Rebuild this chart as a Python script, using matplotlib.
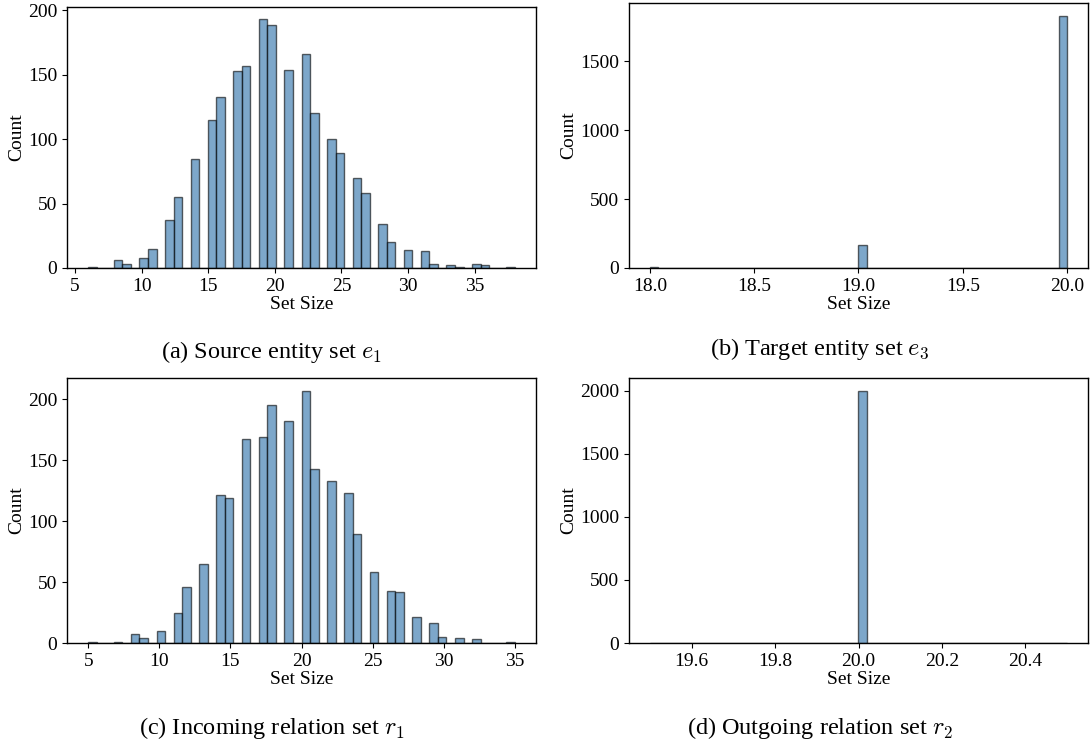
import numpy as np
import matplotlib
matplotlib.use("Agg")
import matplotlib.pyplot as plt
from matplotlib.ticker import MultipleLocator
import seaborn as sns

# counts of set sizes (2000 samples each)
src_sizes = [6, 8, 9, 10, 11, 12, 13, 14, 15, 16, 17, 18, 19, 20, 21, 22, 23,
             24, 25, 26, 27, 28, 29, 30, 31, 32, 33, 34, 35, 36, 38]
src_counts = [1, 6, 3, 8, 15, 37, 55, 85, 115, 133, 153, 157, 193, 189, 154, 166, 120,
              100, 89, 70, 58, 34, 20, 14, 13, 3, 2, 1, 3, 2, 1]

tgt_sizes = [18, 19, 20]
tgt_counts = [5, 164, 1831]

in_sizes = [5, 7, 8, 9, 10, 11, 12, 13, 14, 15, 16, 17, 18, 19, 20, 21, 22,
            23, 24, 25, 26, 27, 28, 29, 30, 31, 32, 35]
in_counts = [1, 1, 7, 4, 10, 25, 46, 65, 121, 119, 167, 169, 195, 182, 207, 143, 133,
             123, 89, 58, 43, 42, 21, 16, 5, 4, 3, 1]

out_sizes = [20]
out_counts = [2000]

captions = [r"(a) Source entity set $e_1$", r"(b) Target entity set $e_3$",
            r"(c) Incoming relation set $r_1$", r"(d) Outgoing relation set $r_2$"]

plt.rcParams['font.family'] = ['Liberation Serif', 'DejaVu Serif']
plt.rcParams['mathtext.fontset'] = 'cm'
plt.rcParams['font.size'] = 14

W, H = 1092, 745
fig = plt.figure(figsize=(W / 100, H / 100), dpi=100)

def px_axes(left, top, right, bottom):
    return fig.add_axes([left / W, 1 - bottom / H, (right - left) / W, (bottom - top) / H])

boxes = [(67, 7, 536, 268), (629, 3, 1088, 268), (67, 378, 536, 643), (629, 378, 1088, 643)]
datasets = [(src_sizes, src_counts), (tgt_sizes, tgt_counts),
            (in_sizes, in_counts), (out_sizes, out_counts)]
cap_pos = [(272, 352), (820, 349), (272, 728), (820, 728)]

for i, (box, (sizes, counts), cap, (cx, cy)) in enumerate(zip(boxes, datasets, captions, cap_pos)):
    ax = px_axes(*box)
    values = np.repeat(sizes, counts)
    sns.histplot(x=values, bins=50, ax=ax)
    for p in ax.patches:
        p.set_facecolor((0.275, 0.51, 0.706, 0.7))
        p.set_edgecolor((0, 0, 0, 0.6))
        p.set_linewidth(1)
    if i == 1:
        ax.xaxis.set_major_locator(MultipleLocator(0.5))
    ax.set_xlabel('Set Size', fontsize=14, labelpad=1)
    ax.set_ylabel('Count', fontsize=14, labelpad=2)
    ax.tick_params(labelsize=14)
    for s in ax.spines.values():
        s.set_linewidth(1)
    fig.text(cx / W, 1 - cy / H, cap, ha='center', va='center', fontsize=17.5)

fig.savefig('out.png', dpi=100)
